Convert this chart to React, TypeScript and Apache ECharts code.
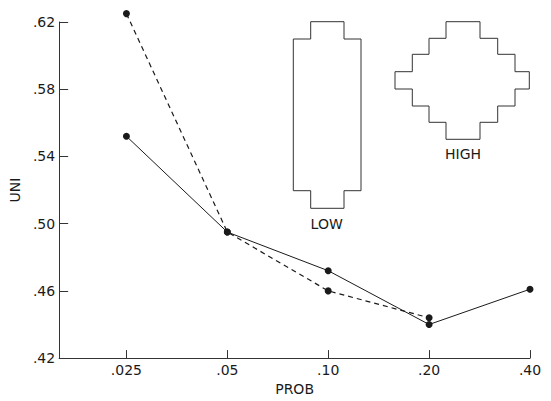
import { useEffect, useRef } from 'react';
import * as echarts from 'echarts';

// ---- data ----
const categories = ['.025', '.05', '.10', '.20', '.40'];
const solidValues = [0.552, 0.495, 0.472, 0.44, 0.461];
const dashedValues = [0.625, 0.495, 0.46, 0.444];
const yTickValues = [0.42, 0.46, 0.5, 0.54, 0.58, 0.62];
const yTickLabels = ['.42', '.46', '.50', '.54', '.58', '.62'];

// ---- illustration outlines (pixel coordinates, decorative) ----
const LOW_OUTLINE: number[][] = [
  [310.7, 21.7], [344, 21.7], [344, 39], [361, 39], [361, 190.7], [344, 190.7],
  [344, 208.3], [310.7, 208.3], [310.7, 190.7], [293.3, 190.7], [293.3, 39], [310.7, 39],
];
const HIGH_OUTLINE: number[][] = [
  [446, 21.7], [480, 21.7], [480, 38.3], [497.7, 38.3], [497.7, 54.3], [515, 54.3],
  [515, 71.7], [529.3, 71.7], [529.3, 89], [515, 89], [515, 106], [497.7, 106],
  [497.7, 122.3], [480, 122.3], [480, 139.3], [446, 139.3], [446, 122.3], [429, 122.3],
  [429, 106], [412.3, 106], [412.3, 89], [395, 89], [395, 71.7], [412.3, 71.7],
  [412.3, 54.3], [429, 54.3], [429, 38.3], [446, 38.3],
];

const FONT = 'DejaVu Sans';
const INK = '#1a1a1a';
const AXIS = '#333';

export default function App() {
  const ref = useRef<HTMLDivElement>(null);

  useEffect(() => {
    if (!ref.current) return;
    const chart = echarts.init(ref.current, undefined, { renderer: 'svg' });
    const xIdx = categories.map((_, i) => i);

    chart.setOption({
      animation: false,
      backgroundColor: '#fff',
      textStyle: { fontFamily: FONT, color: INK },
      grid: { left: 55, right: 21, top: 22, bottom: 41 },
      xAxis: {
        type: 'value',
        min: -2 / 3,
        max: categories.length - 1,
        name: 'PROB',
        nameLocation: 'middle',
        nameGap: 21,
        nameTextStyle: { fontSize: 14, color: INK, fontFamily: FONT },
        axisLine: { show: true, onZero: false, lineStyle: { color: AXIS, width: 1 } },
        axisTick: { show: true, inside: true, length: 8, customValues: xIdx, lineStyle: { color: AXIS } },
        axisLabel: {
          show: true,
          customValues: xIdx,
          margin: 5,
          fontSize: 14,
          color: INK,
          fontFamily: FONT,
          formatter: (v: number) => categories[Math.round(v)] ?? '',
        },
        splitLine: { show: false },
      },
      yAxis: {
        type: 'value',
        min: yTickValues[0],
        max: yTickValues[yTickValues.length - 1],
        name: 'UNI',
        nameLocation: 'middle',
        nameGap: 33,
        nameTextStyle: { fontSize: 14, color: INK, fontFamily: FONT },
        axisLine: { show: true, onZero: false, lineStyle: { color: AXIS, width: 1 } },
        axisTick: { show: true, inside: true, length: 9, customValues: yTickValues, lineStyle: { color: AXIS } },
        axisLabel: {
          show: true,
          customValues: yTickValues,
          margin: 4,
          fontSize: 14,
          color: INK,
          fontFamily: FONT,
          formatter: (v: number) => {
            const i = yTickValues.findIndex((t) => Math.abs(t - v) < 1e-6);
            return i >= 0 ? yTickLabels[i] : '';
          },
        },
        splitLine: { show: false },
      },
      series: [
        {
          name: 'solid',
          type: 'line',
          clip: false,
          data: solidValues.map((v, i) => [i, v]),
          symbol: 'circle',
          symbolSize: 7,
          itemStyle: { color: INK },
          lineStyle: { color: INK, width: 1, type: 'solid' },
        },
        {
          name: 'dashed',
          type: 'line',
          clip: false,
          data: dashedValues.map((v, i) => [i, v]),
          symbol: 'circle',
          symbolSize: 7,
          itemStyle: { color: INK },
          lineStyle: { color: INK, width: 1.2, type: [5, 4] },
        },
      ],
      graphic: [
        {
          type: 'polygon',
          shape: { points: LOW_OUTLINE },
          style: { fill: 'none', stroke: AXIS, lineWidth: 1 },
          silent: true,
        },
        {
          type: 'polygon',
          shape: { points: HIGH_OUTLINE },
          style: { fill: 'none', stroke: AXIS, lineWidth: 1 },
          silent: true,
        },
        {
          type: 'text',
          x: 326.7,
          y: 223.5,
          style: { text: 'LOW', fontSize: 14, fontFamily: FONT, fill: INK, align: 'center', verticalAlign: 'middle' },
          silent: true,
        },
        {
          type: 'text',
          x: 463,
          y: 154,
          style: { text: 'HIGH', fontSize: 14, fontFamily: FONT, fill: INK, align: 'center', verticalAlign: 'middle' },
          silent: true,
        },
      ],
    });

    return () => chart.dispose();
  }, []);

  return (
    <div
      ref={ref}
      style={{ position: 'fixed', left: 0, top: 0, width: 551, height: 401, background: '#fff' }}
    />
  );
}
